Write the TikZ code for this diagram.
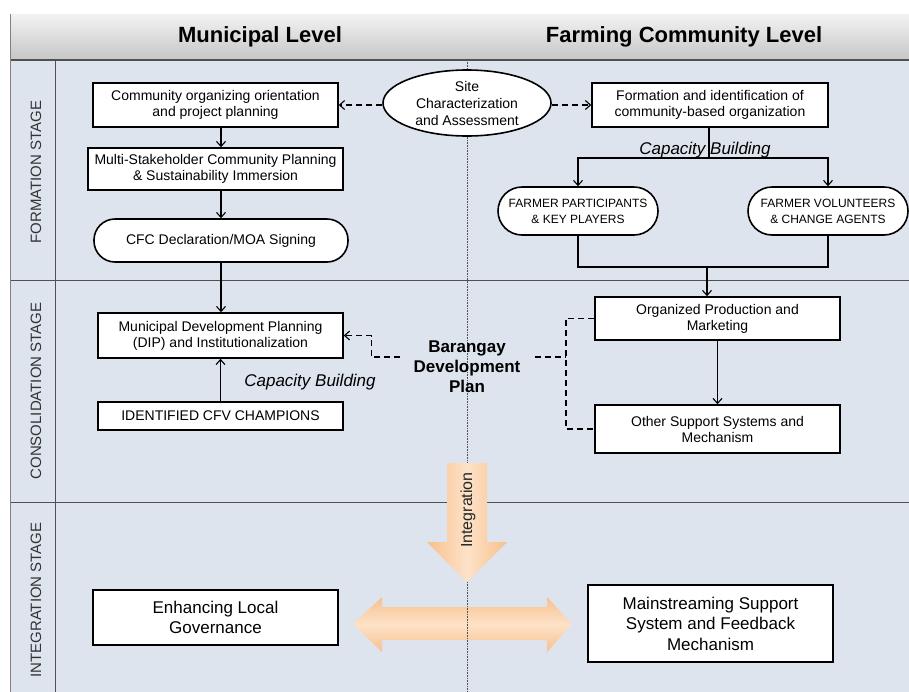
\documentclass[tikz,border=0pt]{standalone}
\usepackage{fontspec}
\setmainfont{Liberation Sans}
\usetikzlibrary{shapes,arrows.meta,calc}

\definecolor{lanebg}{RGB}{221,228,238}
\definecolor{laneline}{RGB}{80,80,80}
\definecolor{bigarrow}{RGB}{248,192,142}
\definecolor{bigarrowmid}{RGB}{253,226,200}

\begin{document}
\begin{tikzpicture}[x=1pt,y=-1pt,
	box/.style={draw=black,line width=1.6pt,fill=white,inner sep=0pt,align=center,font=\fontsize{14}{16}\selectfont},
	pill/.style={box,rounded corners=#1},
	bigbox/.style={box,font=\fontsize{17}{20.5}\selectfont},
	stage/.style={rotate=90,font=\fontsize{15}{17}\selectfont,text=black!80},
	level/.style={font=\fontsize{22}{24}\selectfont\bfseries},
	capbuild/.style={font=\fontsize{17}{19}\selectfont\itshape,inner sep=1pt},
	arr/.style={line width=1.1pt,-{Straight Barb[length=5pt,width=9pt]}},
	darr/.style={arr,dash pattern=on 6pt off 4pt},
	dline/.style={line width=1.1pt,dash pattern=on 6pt off 4pt}]
	\fill[white] (0,0) rectangle (909,691);
	\useasboundingbox (0,0) rectangle (909,691);
	\clip (0,0) rectangle (909,691);

	% lanes
	\fill[lanebg] (10,60) rectangle (915,700);
	\shade[top color=gray!10,bottom color=gray!45] (10,14) rectangle (915,60);
	\draw[laneline,line width=1.3pt] (10,60) -- (915,60);
	\draw[laneline,line width=0.8pt] (10,280) -- (915,280);
	\draw[laneline,line width=0.8pt] (10,502) -- (915,502);
	\draw[laneline,line width=0.8pt] (55,60) -- (55,700);
	\draw[gray,line width=0.6pt] (10,14) -- (10,700);

	\node[level] (munlvl) at (260,37) {Municipal Level};
	\node[level] (farmlvl) at (684,37) {Farming Community Level};
	\node[stage] (formst) at (36,172) {FORMATION STAGE};
	\node[stage] (consst) at (36,391) {CONSOLIDATION STAGE};
	\node[stage] (intst) at (36,600) {INTEGRATION STAGE};

	% integration arrows
	\shade[left color=bigarrow,right color=bigarrow,middle color=bigarrowmid]
		(447,463) -- (487,463) -- (487,542) -- (507,542) -- (467,582) -- (427,542) -- (447,542) -- cycle;
	\shade[top color=bigarrow,bottom color=bigarrow,middle color=bigarrowmid]
		(353,624) -- (382,597) -- (382,607) -- (547,607) -- (547,597) -- (572,624)
		-- (547,652) -- (547,640) -- (382,640) -- (382,652) -- cycle;
	\draw[laneline,densely dotted,line width=0.6pt] (467,60) -- (467,463);
	\draw[laneline,densely dotted,line width=0.6pt] (467,582) -- (467,700);
	\node[rotate=90,font=\fontsize{16}{18}\selectfont,text=black!85] (intg) at (468,510) {Integration};

	% municipal level
	\node[box,minimum width=245,minimum height=44] (co) at (215.5,105) {Community organizing orientation\\and project planning};
	\node[box,minimum width=255,minimum height=42] (msc) at (215.5,169) {Multi-Stakeholder Community Planning\\\& Sustainability Immersion};
	\node[pill=21pt,minimum width=254,minimum height=43] (cfc) at (221,240.5) {CFC Declaration/MOA Signing};
	\node[box,minimum width=245,minimum height=45] (mdp) at (220.5,335.5) {Municipal Development Planning\\(DIP) and Institutionalization};
	\node[box,minimum width=245,minimum height=28] (cfv) at (220.5,416) {IDENTIFIED CFV CHAMPIONS};
	\node[capbuild] (cbl) at (310,382) {Capacity Building};
	\node[bigbox,minimum width=245,minimum height=55] (eg) at (215.5,617.5) {Enhancing Local\\Governance};

	% centre
	\node[box,ellipse,minimum width=168,minimum height=66,font=\fontsize{14}{17}\selectfont] (site) at (467,103) {Site\\Characterization\\and Assessment};
	\node[align=center,font=\fontsize{17}{20}\selectfont\bfseries,inner sep=3pt] (bdp) at (467,367) {Barangay\\Development\\Plan};

	% farming community level
	\node[box,minimum width=236,minimum height=44] (fcbo) at (710,105) {Formation and identification of\\community-based organization};
	\node[capbuild] (cbr) at (705,150) {Capacity Building};
	\node[pill=24pt,minimum width=160,minimum height=48,font=\fontsize{12}{16}\selectfont] (fp) at (578,211) {FARMER PARTICIPANTS\\\& KEY PLAYERS};
	\node[pill=24pt,minimum width=160,minimum height=48,font=\fontsize{12}{16}\selectfont] (fv) at (828,211) {FARMER VOLUNTEERS\\\& CHANGE AGENTS};
	\node[box,minimum width=245,minimum height=43] (op) at (717.5,318.5) {Organized Production and\\Marketing};
	\node[box,minimum width=245,minimum height=48] (os) at (717.5,429) {Other Support Systems and\\Mechanism};
	\node[bigbox,minimum width=245,minimum height=77] (ms) at (710.5,623.5) {Mainstreaming Support\\System and Feedback\\Mechanism};

	% connectors
	\draw[arr] (co.south -| cfc) -- (msc.north -| cfc);
	\draw[arr] (msc.south -| cfc) -- (cfc.north);
	\draw[arr] (cfc.south) -- (cfc.south |- mdp.north);
	\draw[arr] (cfv.north) -- (mdp.south);
	\draw[darr] (site.west |- co) -- (co.east);
	\draw[darr] (site.east |- fcbo) -- (fcbo.west);
	\coordinate (cbsplit) at (709,158);
	\draw[line width=1.1pt] (fcbo.south -| cbsplit) -- (cbsplit);
	\draw[arr] (cbsplit) -| (fp.north);
	\draw[arr] (cbsplit) -| (fv.north);
	\coordinate (fjoin) at (707,267);
	\draw[line width=1.1pt] (fp.south) |- (fjoin) -| (fv.south);
	\draw[arr] (fjoin) -- (fjoin |- op.north);
	\draw[arr] (op.south) -- (os.north);
	\draw[darr] ($(bdp.west)+(-10,-10)$) -- ++(-29,0) |- (mdp.east);
	\coordinate (bdpr) at (566,357);
	\draw[dline] ($(bdp.east)+(11,-10)$) -- (bdpr);
	\draw[dline] (op.west) -| (bdpr) |- (os.west);
\end{tikzpicture}
\end{document}
